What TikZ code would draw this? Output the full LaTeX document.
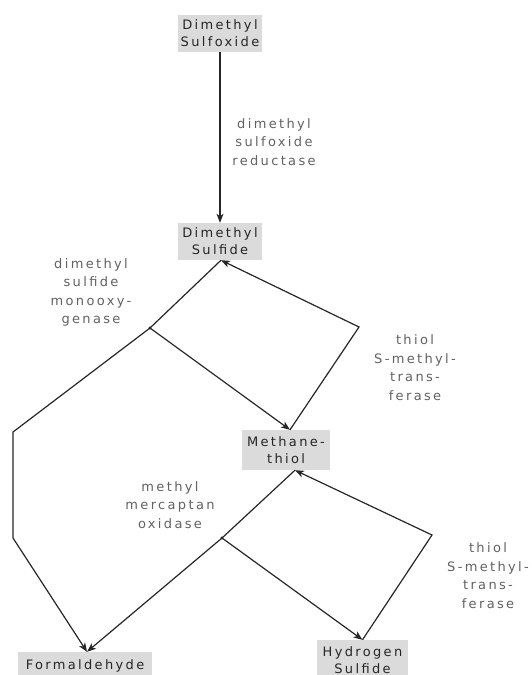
\documentclass[tikz,border=0pt]{standalone}
\usepackage{fontspec}
\setmainfont{DejaVu Sans}[LetterSpace=18]
\usetikzlibrary{arrows.meta}
\definecolor{boxgray}{gray}{0.86}
\begin{document}
\begin{tikzpicture}[x=1pt,y=-1pt,
  box/.style={fill=boxgray, inner sep=0pt, align=center, font=\fontsize{13}{17}\selectfont, text=black!85},
  lab/.style={align=center, font=\fontsize{13}{18.5}\selectfont, text=black!62},
  conn/.style={line width=1.2pt, draw=black!85},
  arr/.style={conn, -{Stealth[length=9pt,width=7pt,inset=2.5pt]}}]
\useasboundingbox (0,0) rectangle (532,675);
% boxes
\node[box, minimum width=84pt, minimum height=37pt] (dmso) at (220,33.5) {Dimethyl\\Sulfoxide};
\node[box, minimum width=84pt, minimum height=37pt] (dms) at (220,241.5) {Dimethyl\\Sulfide};
\node[box, minimum width=88pt, minimum height=40pt] (meth) at (286,450) {Methane-\\thiol};
\node[box, minimum width=134pt, minimum height=28pt] (form) at (85,666) {Formaldehyde};
\node[box, minimum width=91pt, minimum height=40pt] (hs) at (362.5,660) {Hydrogen\\Sulfide};
% labels
\node[lab] (l1) at (274,142) {dimethyl\\sulfoxide\\reductase};
\node[lab] (l2) at (91,292.5) {dimethyl\\sulfide\\monooxy-\\genase};
\node[lab] (l3) at (415,367.5) {thiol\\S-methyl-\\trans-\\ferase};
\node[lab] (l4) at (170,505) {methyl\\mercaptan\\oxidase};
\node[lab] (l5) at (488,575.5) {thiol\\S-methyl-\\trans-\\ferase};
% coordinates
\coordinate (b1) at (150,328);
\coordinate (v1) at (359,327);
\coordinate (k1) at (13,432);
\coordinate (k2) at (13,538);
\coordinate (b2) at (222,538);
\coordinate (v2) at (432,535);
\coordinate (methin) at ([xshift=4pt]meth.north);
\coordinate (methout) at ([xshift=9pt]meth.south);
\coordinate (formin) at ([xshift=2pt]form.north);
\coordinate (dmsin) at ([xshift=1pt]dms.south);
% connectors
\draw[arr] (dmso) -- (dms);
\draw[conn] (dmsin) -- (b1);
\draw[arr] (b1) -- (k1) -- (k2) -- (formin);
\draw[arr] (b1) -- (methin);
\draw[arr] (methin) -- (v1) -- (dmsin);
\draw[conn] (methout) -- (b2);
\draw[arr] (b2) -- (formin);
\draw[arr] (b2) -- (hs.north);
\draw[arr] (hs.north) -- (v2) -- (methout);
\fill[black!85] (b1) circle (1.6pt);
\fill[black!85] (b2) circle (1.6pt);
\end{tikzpicture}
\end{document}
